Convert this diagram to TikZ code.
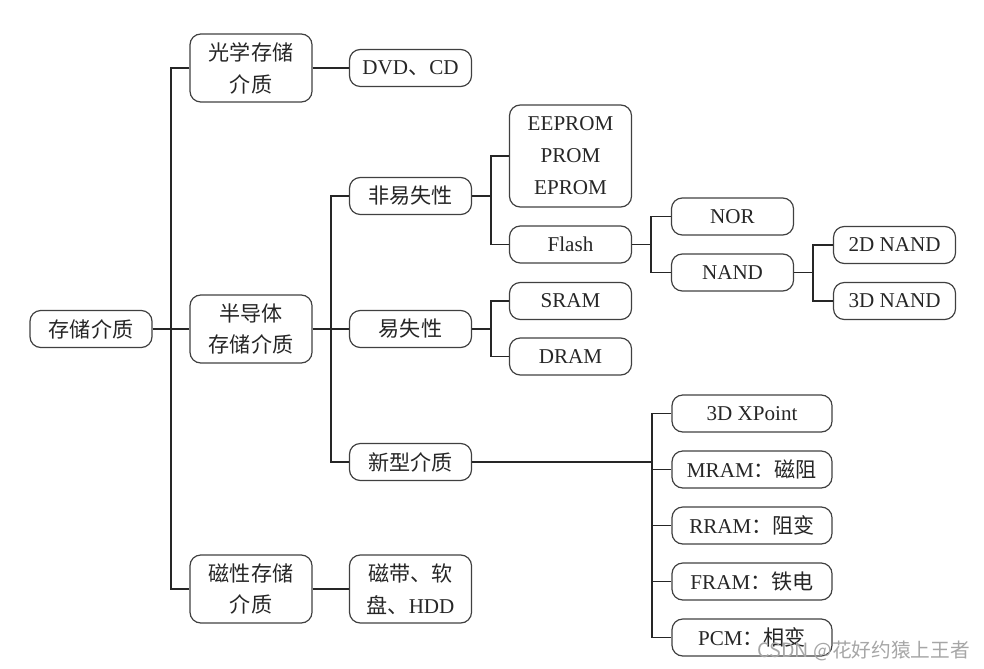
\documentclass[tikz,border=0pt]{standalone}
\usepackage{fontspec}
\setmainfont{Liberation Serif}
\newfontfamily\cjk{Noto Sans CJK SC}
\tikzset{
	box/.style={draw=black!75, line width=0.85pt, rounded corners=0.27cm, minimum width=3.05cm, minimum height=0.925cm, inner sep=0pt, align=center, text=black!85, font=\fontsize{15}{22.7}\selectfont},
	tall/.style={box, minimum height=1.7cm},
	wide/.style={box, minimum width=4cm},
	zh/.style={font=\fontsize{15}{22.7}\selectfont\cjk},
	link/.style={draw=black!85, line width=1.2pt}
}

\begin{document}
\begin{tikzpicture}[x=0.025cm, y=-0.025cm]
				\useasboundingbox (0,0) rectangle (984,669);
				
				\node[box, zh] (root) at (91,329) {存储介质};
				
				\node[tall, zh] (optical) at (251,68) {光学存储\\介质};
				\node[tall, zh] (semi) at (251,329) {半导体\\存储介质};
				\node[tall, zh] (magnetic) at (251,589) {磁性存储\\介质};
				
				\node[box] (dvd) at (410.5,68) {DVD{\cjk 、}CD};
				\node[tall] (tape) at (410.5,589) {{\cjk 磁带、软}\\{\cjk 盘、}HDD};
				
				\node[box, zh] (nonvol) at (410.5,196) {非易失性};
				\node[box, zh] (vol) at (410.5,329) {易失性};
				\node[box, zh] (novel) at (410.5,462) {新型介质};
				
				\node[box, minimum height=2.55cm] (eeprom) at (570.5,156) {EEPROM\\PROM\\EPROM};
				\node[box] (flash) at (570.5,244.5) {Flash};
				\node[box] (sram) at (570.5,301) {SRAM};
				\node[box] (dram) at (570.5,356.5) {DRAM};
				
				\node[box] (nor) at (732.5,216.5) {NOR};
				\node[box] (nand) at (732.5,272.5) {NAND};
				\node[box] (nand2d) at (894.5,245) {2D NAND};
				\node[box] (nand3d) at (894.5,301) {3D NAND};
				
				\node[wide] (xpoint) at (752,413.5) {3D XPoint};
				\node[wide] (mram) at (752,469.5) {MRAM{\cjk ：磁阻}};
				\node[wide] (rram) at (752,525.5) {RRAM{\cjk ：阻变}};
				\node[wide] (fram) at (752,581.5) {FRAM{\cjk ：铁电}};
				\node[wide] (pcm) at (752,637.5) {PCM{\cjk ：相变}};
				
				\coordinate (j1) at (171,329);
				\draw[link] (optical.west) -| (j1) |- (magnetic.west);
				\draw[link] (root.east) -- (semi.west);
				\draw[link] (optical.east) -- (dvd.west);
				\draw[link] (magnetic.east) -- (tape.west);
				
				\coordinate (j2) at (331,329);
				\draw[link] (nonvol.west) -| (j2) |- (novel.west);
				\draw[link] (semi.east) -- (vol.west);
				
				\coordinate (j3) at (491,196);
				\draw[link] (eeprom.west) -| (j3) |- (flash.west);
				\draw[link] (nonvol.east) -- (j3);
				
				\coordinate (j4) at (491,329);
				\draw[link] (sram.west) -| (j4) |- (dram.west);
				\draw[link] (vol.east) -- (j4);
				
				\coordinate (j5) at (651,244.5);
				\draw[link] (nor.west) -| (j5) |- (nand.west);
				\draw[link] (flash.east) -- (j5);
				
				\coordinate (j6) at (813,272.5);
				\draw[link] (nand2d.west) -| (j6) |- (nand3d.west);
				\draw[link] (nand.east) -- (j6);
				
				\coordinate (j7) at (652,462);
				\draw[link] (xpoint.west) -| (j7) |- (pcm.west);
				\draw[link] (novel.east) -- (j7);
				\foreach \m in {mram, rram, fram}
					\draw[link] (\m.west) -- (\m.west -| j7);
				
				\node[anchor=east, text=black!35, font=\fontsize{14}{14}\selectfont\cjk] (mark) at (975,651) {CSDN @花好约猿上王者};
			\end{tikzpicture}
\end{document}
